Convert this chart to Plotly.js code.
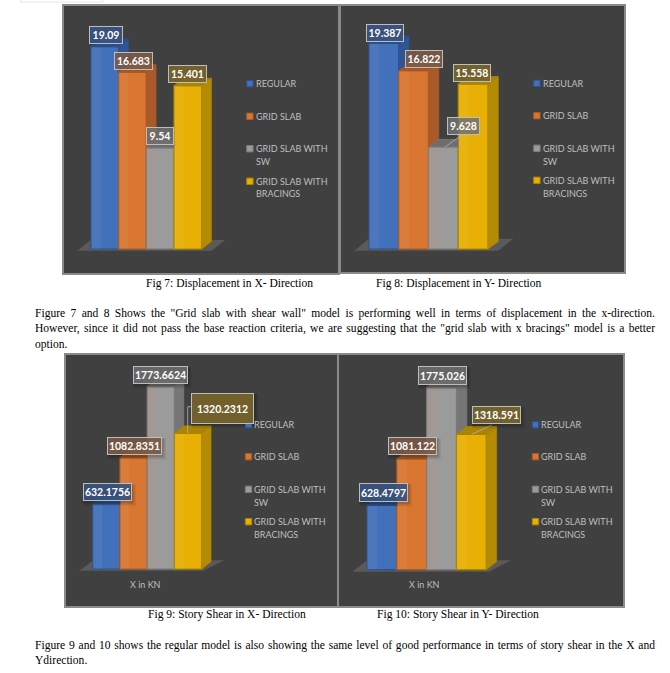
<!DOCTYPE html>
<html>
<head>
<meta charset="utf-8">
<script src="https://cdn.plot.ly/plotly-3.0.1.min.js"></script>
<style>html,body{margin:0;padding:0;background:#fff}#chart{width:670px;height:673px}</style>
</head>
<body>
<div id="chart"></div>
<script>
// ---------- data ----------
const categories = ["REGULAR", "GRID SLAB", "GRID SLAB WITH SW", "GRID SLAB WITH BRACINGS"];
const legendLines = [["REGULAR"], ["GRID SLAB"], ["GRID SLAB WITH", "SW"], ["GRID SLAB WITH", "BRACINGS"]];
const displacementX = [19.09, 16.683, 9.54, 15.401];
const displacementY = [19.387, 16.822, 9.628, 15.558];
const storyShearX = [632.1756, 1082.8351, 1773.6624, 1320.2312];
const storyShearY = [628.4797, 1081.122, 1775.026, 1318.591];
const captions = ["Fig 7: Displacement in X- Direction", "Fig 8: Displacement in Y- Direction", "Fig 9: Story Shear in X- Direction", "Fig 10: Story Shear in Y- Direction"];
const axisCaption = "X in KN";
const paragraph1 = [
  'Figure 7 and 8 Shows the "Grid slab with shear wall" model is performing well in terms of displacement in the x-direction.',
  'However, since it did not pass the base reaction criteria, we are suggesting that the "grid slab with x bracings" model is a better',
  'option.'];
const paragraph2 = [
  'Figure 9 and 10 shows the regular model is also showing the same level of good performance in terms of story shear in the X and',
  'Ydirection.'];

// ---------- styles ----------
const W = 670, H = 673;
const front = ["#4370ba", "#d97632", "#9b9b9b", "#e8b005"];
const edge  = ["#2d528f", "#a65a20", "#7b7b7b", "#a98500"];
const side  = ["#2f5595", "#a9592a", "#767676", "#b58b04"];
const top3d = ["#2b4e88", "#a2592a", "#6d6d6d", "#aa8406"];
const boxBg = ["rgba(58,84,130,0.9)", "rgba(125,90,70,0.88)", "rgba(112,112,112,0.85)", "rgba(117,98,44,0.95)"];
const LABEL_FONT = "Lato, 'Open Sans', sans-serif";
const SERIF = "'Liberation Serif', serif";

const panels = [
  {vals: displacementX, fmt: ["19.09","16.683","9.54","15.401"], box:[63,339,5,274], left:91, bw:27.67, base:249, pxPerUnit:10.6, dx:9.7, dy:7.5,
   floor:[[77.3,250.7],[211.7,250.7],[225,240],[90.7,240]],
   shift:[[1,11.3],[0.5,10.8],[0,11.4],[0,11.4]], boxW:[32,37,26,37], boxH:[16,16,16,16],
   lgX:246.7, lgY:[83.7,116.3,148.7,181.3], cap:[146,283]},
  {vals: displacementY, fmt: ["19.387","16.822","9.628","15.558"], box:[340,625,5,273], left:369, bw:29.75, base:249, pxPerUnit:10.6, dx:10.3, dy:7.5,
   floor:[[354.3,250.7],[498.3,250.7],[513.3,238.7],[369,238.7]],
   shift:[[0.8,10.8],[10.4,11.2],[19.8,21.2],[-0.9,11.2]], boxW:[36,36,31,36], boxH:[16,16,16,16],
   lgX:533.7, lgY:[83.3,115.7,148.3,180.3], cap:[376,283],
   leader:[[462,135],[445,147]]},
  {vals: storyShearX, fmt: ["632.1756","1082.8351","1773.6624","1320.2312"], box:[65,338,354,607], left:92.7, bw:27.25, base:569, pxPerUnit:0.10278, dx:9.3, dy:7.3,
   floor:[[79.3,570.7],[203,570.7],[224,560.3],[93.3,560.3]],
   shift:[[0.7,11.6],[0.6,11.4],[-0.8,11.4],[34.6,25.1]], boxW:[47,53,53,61], boxH:[16,16,16,29], halo:true,
   lgX:245.3, lgY:[424.7,456.7,489.3,521.7], cap:[148,614], kn:[145,584.3],
   leader:[[192.3,406.7],[187.7,406.7],[187.7,433.3]]},
  {vals: storyShearY, fmt: ["628.4797","1081.122","1775.026","1318.591"], box:[338,624,354,607], left:367, bw:29.83, base:569.7, pxPerUnit:0.10254, dx:10.3, dy:8,
   floor:[[352.3,571.7],[489,571.7],[511,560.3],[367,560.3]],
   shift:[[1.1,12.5],[0.3,12.5],[0.7,11.9],[24.7,19.2]], boxW:[47,47,47,47], boxH:[17,16,17,16], halo:true,
   lgX:532.3, lgY:[424.7,456.7,489.3,521.7], cap:[377,614], kn:[424.3,584.3],
   leader:[[491.7,425],[471.7,434.3]]}
];

const px = x => x / W;
const py = y => 1 - y / H;

const traces = [], shapes = [], annotations = [];
const layout = {
  width: W, height: H, autosize: false,
  margin: {l:0, r:0, t:0, b:0, pad:0},
  paper_bgcolor: "#ffffff", plot_bgcolor: "#404040",
  showlegend: false, bargap: 0, barmode: "overlay",
  hovermode: false, shapes, annotations
};

panels.forEach((p, n) => {
  const suffix = n === 0 ? "" : String(n + 1);
  const xa = "x" + suffix, ya = "y" + suffix;
  const [x0, x1, y0, y1] = [p.box[0] + 0.8, p.box[1] - 0.8, p.box[2] + 0.8, p.box[3] - 0.8];
  const cx0 = p.left + p.bw / 2;          // pixel centre of first bar
  const toUx = v => (v - cx0) / p.bw;
  const toUy = v => (p.base - v) / p.pxPerUnit;
  const axisBase = {showgrid:false, zeroline:false, showticklabels:false, ticks:"", showline:true, mirror:true, linecolor:"#8a8a8a", linewidth:1.5, fixedrange:true};
  layout["xaxis" + suffix] = Object.assign({}, axisBase, {domain:[px(x0), px(x1)], range:[toUx(x0), toUx(x1)], anchor:ya});
  layout["yaxis" + suffix] = Object.assign({}, axisBase, {domain:[py(y1), py(y0)], range:[toUy(y1), toUy(y0)], anchor:xa});

  const ddx = p.dx / p.bw, ddy = p.dy / p.pxPerUnit;

  // floor, below the traces
  const fl = p.floor.map(q => [toUx(q[0]), toUy(q[1])]);
  shapes.push({type:"path", layer:"below", xref:xa, yref:ya, line:{width:0}, fillcolor:"#5a5a5a",
    path:"M" + fl.map(q => q[0] + "," + q[1]).join("L") + "Z"});

  // front faces
  p.vals.forEach((v, i) => {
    traces.push({type:"bar", x:[i], y:[v], width:1, name:categories[i], xaxis:xa, yaxis:ya,
      marker:{color:front[i], line:{color:edge[i], width:1.2}}, hoverinfo:"skip"});
  });

  // depth faces derived from the values
  const poly = (xs, ys, col, lineCol) => traces.push({type:"scatter", mode:"lines", x:xs.concat(xs[0]), y:ys.concat(ys[0]),
    fill:"toself", fillcolor:col, line:{color:lineCol || col, width:lineCol ? 0.8 : 0}, xaxis:xa, yaxis:ya, hoverinfo:"skip", showlegend:false});
  p.vals.forEach((v, i) => {
    const l = i - 0.5, r = i + 0.5, next = i < 3 ? p.vals[i + 1] : 0;
    // see-through inner band on the front face
    const prevCol = i > 0 && p.vals[i - 1] > v * 0.5 ? "rgba(200,140,110,0.16)" : "rgba(255,255,255,0.05)";
    poly([l, l + ddx, l + ddx, l], [0, 0, v, v], i === 2 ? prevCol : "rgba(255,255,255,0.05)");
    if (next < v) poly([r, r + ddx, r + ddx, r], [next, next + ddy, v + ddy, v], side[i], edge[i]);
    if (next > v) poly([l, r, r, l + ddx], [v, v, v + ddy, v + ddy], top3d[i], edge[i]);
    else poly([l, r, r + ddx, l + ddx], [v, v, v + ddy, v + ddy], top3d[i], edge[i]);
  });

  // leader lines
  if (p.leader) shapes.push({type:"path", xref:"paper", yref:"paper", line:{color:"#b5b5b5", width:0.8},
    path:"M" + p.leader.map(q => px(q[0]) + "," + py(q[1])).join("L")});

  // data labels
  p.vals.forEach((v, i) => {
    if (p.halo) {
      const cx = cx0 + p.bw * i + p.shift[i][0], cy = p.base - v * p.pxPerUnit - p.shift[i][1];
      [[5, 0.10], [3, 0.14]].forEach(h => shapes.push({type:"rect", xref:"paper", yref:"paper", line:{width:0}, fillcolor:"rgba(0,0,0," + h[1] + ")",
        x0:px(cx - p.boxW[i] / 2), x1:px(cx + p.boxW[i] / 2 + h[0]), y0:py(cy + p.boxH[i] / 2 + h[0]), y1:py(cy - p.boxH[i] / 2)}));
    }
    annotations.push({
      xref:xa, yref:ya, x:i, y:v, xshift:p.shift[i][0], yshift:p.shift[i][1], xanchor:"center", yanchor:"middle",
      text:"<b>" + p.fmt[i] + "</b>", showarrow:false, width:p.boxW[i], height:p.boxH[i], borderpad:0, borderwidth:1,
      bordercolor:"#bdbdbd", bgcolor:boxBg[i], valign:"middle", align:"center", font:{family:LABEL_FONT, size:10.5, color:"#ffffff"}
    });
  });

  // key
  legendLines.forEach((lines, i) => {
    const yc = p.lgY[i];
    shapes.push({type:"rect", xref:"paper", yref:"paper", x0:px(p.lgX), x1:px(p.lgX + 6.4), y0:py(yc + 3.2), y1:py(yc - 3.2),
      fillcolor:front[i], line:{color:edge[i], width:1}});
    lines.forEach((t, k) => annotations.push({xref:"paper", yref:"paper", x:px(p.lgX + 7), y:py(yc + k * 12.7), xanchor:"left", yanchor:"middle",
      text:t, showarrow:false, font:{family:LABEL_FONT, size:9, color:"#bfbfbf"}}));
  });

  if (p.kn) annotations.push({xref:"paper", yref:"paper", x:px(p.kn[0]), y:py(p.kn[1]), xanchor:"center", yanchor:"middle",
    text:axisCaption, showarrow:false, font:{family:LABEL_FONT, size:9, color:"#bfbfbf"}});

  // caption
  annotations.push({xref:"paper", yref:"paper", x:px(p.cap[0] - 2), y:py(p.cap[1]), xanchor:"left", yanchor:"middle",
    text:captions[n], showarrow:false, font:{family:SERIF, size:11.55, color:"#000"}});
});

// body text, justified to the page column
const ctx = document.createElement("canvas").getContext("2d");
const bodySize = 11.55;
ctx.font = bodySize + "px 'Liberation Serif'";
const LEFT = 35, RIGHT = 655;
function bodyLine(t, y, justify) {
  let spacing = 0;
  if (justify) spacing = (RIGHT - LEFT - ctx.measureText(t).width) / (t.split(" ").length - 1);
  const txt = spacing ? '<span style="word-spacing:' + spacing.toFixed(3) + 'px">' + t + '</span>' : t;
  annotations.push({xref:"paper", yref:"paper", x:px(LEFT - 2), y:py(y), xanchor:"left", yanchor:"middle", align:"left",
    text:txt, showarrow:false, font:{family:SERIF, size:bodySize, color:"#000"}});
}
paragraph1.forEach((t, i) => bodyLine(t, [313, 328.5, 344.5][i], i < 2));
paragraph2.forEach((t, i) => bodyLine(t, [645, 660][i], i < 1));

// faint remnant box at the page top
shapes.push({type:"rect", xref:"paper", yref:"paper", x0:px(20.5), x1:px(103), y0:py(2), y1:py(-2), line:{color:"#e6e6e6", width:1}, fillcolor:"rgba(0,0,0,0)"});

Plotly.newPlot("chart", traces, layout, {displayModeBar:false, staticPlot:true});
</script>
</body>
</html>
